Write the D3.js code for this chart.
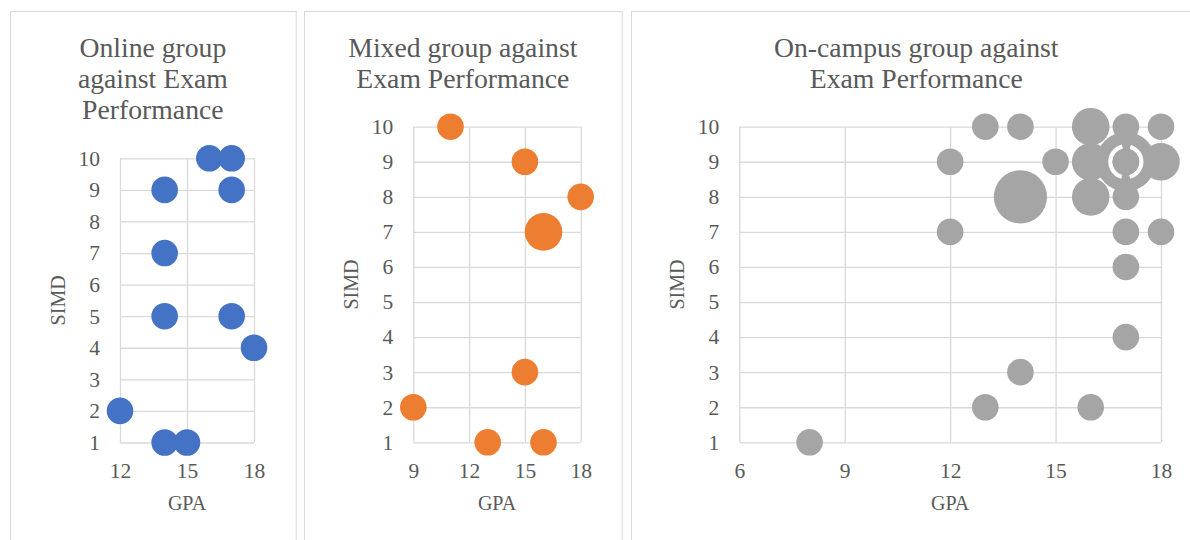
<!DOCTYPE html>
<html>
<head>
<meta charset="utf-8">
<style>
  body { margin: 0; background: #fff; }
  svg text { font-family: "Liberation Serif", "DejaVu Serif", serif; fill: #595959; }
  .grid path.domain { display: none; }
  .grid line { stroke: #d9d9d9; stroke-width: 1.3; }
</style>
</head>
<body>
<div id="chart"></div>
<script src="https://d3js.org/d3.v7.min.js"></script>
<script>
  // data: GPA, SIMD, number of students at that point
  const onlineGPA   = [16, 17, 14, 17, 14, 14, 17, 18, 12, 14, 15];
  const onlineSIMD  = [10, 10, 9, 9, 7, 5, 5, 4, 2, 1, 1];
  const onlineCount = [1, 1, 1, 1, 1, 1, 1, 1, 1, 1, 1];

  const mixedGPA   = [11, 15, 18, 16, 15, 9, 13, 16];
  const mixedSIMD  = [10, 9, 8, 7, 3, 2, 1, 1];
  const mixedCount = [1, 1, 1, 2, 1, 1, 1, 1];

  const campusGPA   = [13, 14, 16, 17, 18, 12, 15, 16, 17, 17, 18, 14, 14, 16, 17, 12, 17, 18, 17, 17, 14, 13, 16, 8];
  const campusSIMD  = [10, 10, 10, 10, 10, 9, 9, 9, 9, 9, 9, 8, 8, 8, 8, 7, 7, 7, 6, 4, 3, 2, 2, 1];
  const campusCount = [1, 1, 2, 1, 1, 1, 1, 2, 5, 1, 2, 4, 1, 2, 1, 1, 1, 1, 1, 1, 1, 1, 1, 1];

  const simdTicks = [1, 2, 3, 4, 5, 6, 7, 8, 9, 10];

  const width = 1190, height = 540;

  const svg = d3.select('#chart')
    .append('svg')
    .attr('width', width)
    .attr('height', height);

  // one bubble scale for all three charts (area ~ count)
  const rScale = d3.scaleSqrt().domain([0, 1]).range([0, 13.3]);

  function drawChart(opt) {
    // panel frame
    svg.append('rect')
      .attr('x', opt.panel[0] + 0.5)
      .attr('y', 11.5)
      .attr('width', opt.panel[1] - opt.panel[0])
      .attr('height', 600)
      .attr('fill', 'none')
      .attr('stroke', '#d9d9d9')
      .attr('stroke-width', 1);

    const panelMid = (opt.panel[0] + opt.panel[1]) / 2;

    // title
    const title = svg.append('text')
      .attr('text-anchor', 'middle')
      .style('font-size', '27.7px');
    opt.title.forEach((t, i) => {
      title.append('tspan')
        .attr('x', panelMid)
        .attr('y', 57.3 + i * 31)
        .text(t);
    });

    const x = d3.scaleLinear().domain(opt.xDomain).range([opt.left, opt.right]);
    const y = d3.scaleLinear().domain([1, 10]).range([opt.bottom, opt.top]);

    // vertical grid + x labels
    svg.append('g')
      .attr('class', 'grid')
      .attr('transform', `translate(0, ${opt.bottom})`)
      .call(d3.axisBottom(x)
        .tickValues(opt.xTicks)
        .tickFormat(d3.format('d'))
        .tickSize(-(opt.bottom - opt.top))
        .tickPadding(20))
      .selectAll('text')
      .style('font-size', '21.5px')
      .attr('fill', '#595959');

    // horizontal grid + y labels
    svg.append('g')
      .attr('class', 'grid')
      .attr('transform', `translate(${opt.left}, 0)`)
      .call(d3.axisLeft(y)
        .tickValues(simdTicks)
        .tickFormat(d3.format('d'))
        .tickSize(-(opt.right - opt.left))
        .tickPadding(20))
      .selectAll('text')
      .style('font-size', '21.5px')
      .attr('fill', '#595959');

    // axis titles
    svg.append('text')
      .attr('x', (opt.left + opt.right) / 2)
      .attr('y', 510)
      .attr('text-anchor', 'middle')
      .style('font-size', '20px')
      .text('GPA');

    const midY = (opt.top + opt.bottom) / 2;
    svg.append('text')
      .attr('transform', `translate(${opt.left - 55}, ${midY}) rotate(-90)`)
      .attr('text-anchor', 'middle')
      .style('font-size', '20px')
      .text('SIMD');

    // bubbles, biggest first like Excel does
    const pts = opt.gpa.map((g, i) => ({ gpa: g, simd: opt.simd[i], n: opt.count[i] }))
      .sort((a, b) => b.n - a.n);

    svg.append('g')
      .selectAll('circle')
      .data(pts)
      .join('circle')
      .attr('cx', d => x(d.gpa))
      .attr('cy', d => y(d.simd))
      .attr('r', d => rScale(d.n))
      .attr('fill', opt.color);

    // white ring around the single student sitting on the big (17, 9) bubble
    if (opt.ring) {
      const r = rScale(1) + 2.2;
      const q = Math.PI * r / 2;
      svg.append('circle')
        .attr('cx', x(opt.ring[0]))
        .attr('cy', y(opt.ring[1]))
        .attr('r', r)
        .attr('fill', 'none')
        .attr('stroke', '#fff')
        .attr('stroke-width', 4.2)
        .attr('stroke-dasharray', `${q - 4} 8 ${2 * q - 8} 8 ${q - 4}`);
      svg.append('circle')
        .attr('cx', x(opt.ring[0]))
        .attr('cy', y(opt.ring[1]))
        .attr('r', rScale(1))
        .attr('fill', opt.color);
    }
  }

  drawChart({
    title: ['Online group', 'against Exam', 'Performance'],
    gpa: onlineGPA, simd: onlineSIMD, count: onlineCount,
    xDomain: [12, 18], xTicks: [12, 15, 18],
    panel: [10, 295.7],
    left: 120, right: 254, top: 158.3, bottom: 442.5,
    color: '#4472c4'
  });

  drawChart({
    title: ['Mixed group against', 'Exam Performance'],
    gpa: mixedGPA, simd: mixedSIMD, count: mixedCount,
    xDomain: [9, 18], xTicks: [9, 12, 15, 18],
    panel: [304, 621.7],
    left: 413.3, right: 580.7, top: 126.7, bottom: 442.3,
    color: '#ed7d31'
  });

  drawChart({
    title: ['On-campus group against', 'Exam Performance'],
    gpa: campusGPA, simd: campusSIMD, count: campusCount,
    xDomain: [6, 18], xTicks: [6, 9, 12, 15, 18],
    panel: [631, 1201.5],
    left: 739.3, right: 1161, top: 126.7, bottom: 442.3,
    color: '#a5a5a5',
    ring: [17, 9]
  });
</script>
</body>
</html>
